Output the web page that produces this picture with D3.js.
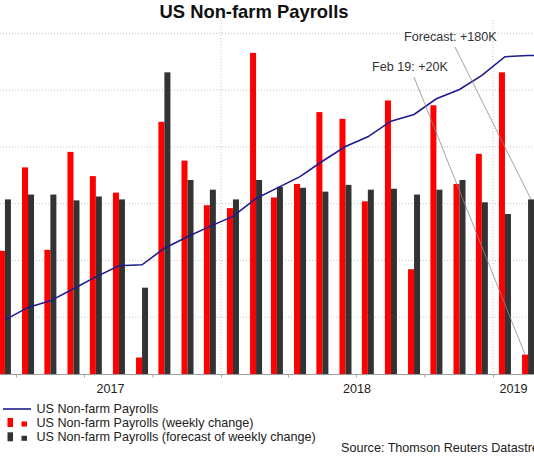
<!DOCTYPE html>
<html>
<head>
<meta charset="utf-8">
<script src="https://cdn.jsdelivr.net/npm/d3@7"></script>
<style>
  body { margin: 0; background: #fff; }
  svg { display: block; font-family: "Liberation Sans", Arial, sans-serif; }
</style>
</head>
<body>
<div id="grafico"></div>
<script>
// meses (Mar 2017 - Feb 2019)
const meses = ["2017-03","2017-04","2017-05","2017-06","2017-07","2017-08","2017-09","2017-10","2017-11","2017-12",
  "2018-01","2018-02","2018-03","2018-04","2018-05","2018-06","2018-07","2018-08","2018-09","2018-10","2018-11","2018-12",
  "2019-01","2019-02"];
// variação mensal (milhares)
const variacao = [127, 213, 128, 229, 204, 187, 17, 260, 220, 174, 171, 331, 182, 196, 270, 263, 178, 282, 108, 277, 196, 227, 311, 20];
// previsão da variação (milhares)
const previsao = [180, 185, 185, 179, 183, 180, 89, 311, 200, 190, 180, 200, 193, 192, 188, 195, 190, 191, 185, 190, 200, 177, 165, 180];
// nível total (milhares)
const nivel = [145953, 146173, 146288, 146500, 146710, 146906, 146923, 147215, 147418, 147600, 147776, 148090, 148273,
  148476, 148746, 149006, 149177, 149452, 149570, 149847, 150010, 150260, 150588, 150608];
const anos = [2017, 2018, 2019];

const W = 534, H = 456;
const base = 374;
const fs = '12.6px';

const parse = d3.timeParse("%Y-%m");
const dados = meses.map((m, i) => {
  const d = parse(m);
  return { data: new Date(d.getFullYear(), d.getMonth(), 17), valor: variacao[i], prev: previsao[i], nivel: nivel[i] };
});

const x = d3.scaleTime()
  .domain([new Date(2017, 2, 1), new Date(2019, 2, 1)])
  .range([-7, 537]);

const yBar = d3.scaleLinear().domain([0, 100]).range([base, base - 97]);
const yLine = d3.scaleLinear().domain([145000, 151000]).range([base, 33.3]);

let svg = d3.select('#grafico').append('svg')
  .attr('width', W)
  .attr('height', H);

svg.append('rect').attr('width', W).attr('height', H).attr('fill', '#fff');

svg.append('defs').append('clipPath').attr('id', 'clip')
  .append('rect').attr('x', 0).attr('y', 0).attr('width', W).attr('height', base);

//grelha
let grelha = svg.append('g');
grelha.selectAll('line.h')
  .data(yLine.ticks(6).filter(t => t > 145000))
  .enter().append('line')
  .attr('x1', 0).attr('x2', W)
  .attr('y1', t => yLine(t)).attr('y2', t => yLine(t))
  .style('stroke', '#c4c4c4')
  .style('stroke-dasharray', '1,2');

grelha.selectAll('line.v')
  .data([new Date(2018, 0, 1), new Date(2019, 0, 1)])
  .enter().append('line')
  .attr('x1', d => x(d)).attr('x2', d => x(d))
  .attr('y1', 20).attr('y2', base)
  .style('stroke', '#c4c4c4')
  .style('stroke-dasharray', '1,2');

let plot = svg.append('g').attr('clip-path', 'url(#clip)');

//barras
const bw = 6;
plot.selectAll('rect.real')
  .data(dados).enter().append('rect')
  .attr('x', d => x(d.data) - bw)
  .attr('y', d => yBar(d.valor))
  .attr('width', bw)
  .attr('height', d => base - yBar(d.valor))
  .style('fill', '#ff0000');

plot.selectAll('rect.prev')
  .data(dados).enter().append('rect')
  .attr('x', d => x(d.data))
  .attr('y', d => yBar(d.prev))
  .attr('width', bw)
  .attr('height', d => base - yBar(d.prev))
  .style('fill', '#333333');

//linha (continua plana até à borda do gráfico)
const linha = d3.line()
  .x(d => x(d.data))
  .y(d => yLine(d.nivel));

const ultimo = dados[dados.length - 1];
plot.append('path')
  .datum(dados.concat([{ data: x.domain()[1], nivel: ultimo.nivel }]))
  .attr('d', linha)
  .style('fill', 'none')
  .style('stroke', '#1c1c8f')
  .style('stroke-width', 1.6);

//eixo x
svg.append('line')
  .attr('x1', 0).attr('x2', W)
  .attr('y1', base + 0.5).attr('y2', base + 0.5)
  .style('stroke', '#a0a0a0');

const xAxis = d3.axisBottom(x)
  .ticks(d3.timeMonth.every(3))
  .tickSize(3)
  .tickFormat('');
let gx = svg.append('g')
  .attr('transform', 'translate(0,' + (base + 0.5) + ')')
  .call(xAxis);
gx.select('.domain').remove();
gx.selectAll('line').style('stroke', '#a0a0a0');

svg.selectAll('text.ano')
  .data(anos).enter().append('text')
  .attr('x', a => {
    const x0 = Math.max(0, x(new Date(a, 0, 1)));
    const x1 = Math.min(W, x(new Date(a + 1, 0, 1)));
    return (x0 + x1) / 2;
  })
  .attr('y', 393)
  .style('text-anchor', 'middle')
  .style('font-size', fs)
  .style('fill', '#222')
  .text(a => a);

//titulo
svg.append('text')
  .attr('x', 254).attr('y', 18)
  .style('text-anchor', 'middle')
  .style('font-size', '18.4px')
  .style('font-weight', 'bold')
  .style('fill', '#111')
  .text('US Non-farm Payrolls');

//anotacoes
svg.append('line')
  .attr('x1', 455).attr('y1', 47)
  .attr('x2', x(ultimo.data) + 3).attr('y2', yBar(ultimo.prev))
  .style('stroke', '#8c8c8c').style('stroke-width', 0.8);
svg.append('line')
  .attr('x1', 414).attr('y1', 77)
  .attr('x2', x(ultimo.data) - 3).attr('y2', yBar(ultimo.valor))
  .style('stroke', '#8c8c8c').style('stroke-width', 0.8);

svg.append('text')
  .attr('x', 404).attr('y', 41)
  .style('font-size', fs).style('fill', '#333')
  .text('Forecast: +' + ultimo.prev + 'K');
svg.append('text')
  .attr('x', 372).attr('y', 71)
  .style('font-size', fs).style('fill', '#333')
  .text('Feb 19: +' + ultimo.valor + 'K');

//legenda
let leg = svg.append('g');
leg.append('line')
  .attr('x1', 3).attr('x2', 31).attr('y1', 409).attr('y2', 409)
  .style('stroke', '#1c1c8f').style('stroke-width', 1.6);

const cores = ['#ff0000', '#333333'];
cores.forEach((c, i) => {
  const yy = 418 + i * 14.3;
  leg.append('rect').attr('x', 7.5).attr('y', yy).attr('width', 5.5).attr('height', 9).style('fill', c);
  leg.append('rect').attr('x', 21.5).attr('y', yy + 3.5).attr('width', 5.5).attr('height', 5).style('fill', c);
});

const nomes = ['US Non-farm Payrolls', 'US Non-farm Payrolls (weekly change)', 'US Non-farm Payrolls (forecast of weekly change)'];
leg.selectAll('text')
  .data(nomes).enter().append('text')
  .attr('x', 36.5)
  .attr('y', (n, i) => 412.5 + i * 14)
  .style('font-size', fs)
  .style('fill', '#222')
  .text(n => n);

svg.append('text')
  .attr('x', 341).attr('y', 452)
  .style('font-size', fs)
  .style('fill', '#222')
  .text('Source: Thomson Reuters Datastream');
</script>
</body>
</html>
